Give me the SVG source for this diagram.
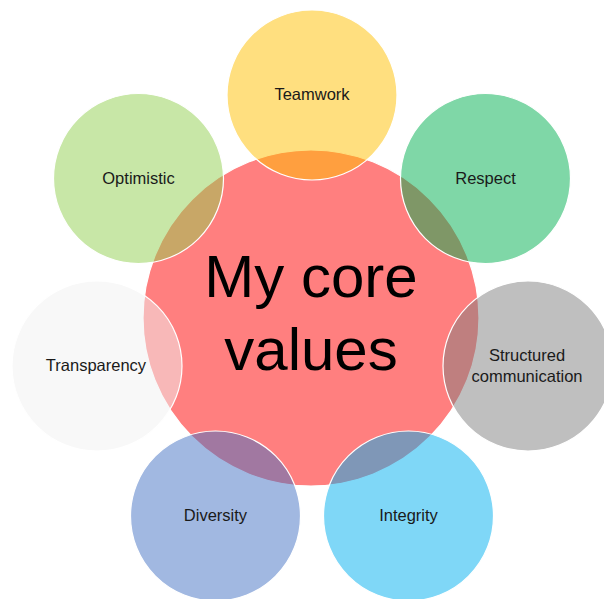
<svg xmlns="http://www.w3.org/2000/svg" width="604" height="599" viewBox="0 0 604 599">
<style>
.c{stroke:#ffffff;stroke-width:1.2;fill-opacity:0.5}
.lbl{font-family:"Liberation Sans",Arial,sans-serif;font-size:16.5px;fill:#1a1a1a;text-anchor:middle}
.big{font-family:"Liberation Sans",Arial,sans-serif;font-size:60px;fill:#000000;text-anchor:middle}
</style>
<rect width="604" height="599" fill="#ffffff"/>
<g id="core">
<circle class="c" cx="311" cy="318" r="168" fill="#FF0000"/>
</g>
<g id="teamwork">
<circle class="c" cx="312" cy="95" r="85" fill="#FFC000"/>
<text class="lbl" x="312" y="100">Teamwork</text>
</g>
<g id="respect">
<circle class="c" cx="485.5" cy="178.5" r="85" fill="#00B050"/>
<text class="lbl" x="485.5" y="184">Respect</text>
</g>
<g id="structured">
<circle class="c" cx="528" cy="366" r="85" fill="#7F7F7F"/>
<text class="lbl" x="527" y="361">Structured</text>
<text class="lbl" x="527" y="382">communication</text>
</g>
<g id="integrity">
<circle class="c" cx="408.5" cy="516" r="85" fill="#00B0F0"/>
<text class="lbl" x="408.5" y="521">Integrity</text>
</g>
<g id="diversity">
<circle class="c" cx="215.5" cy="516" r="85" fill="#4472C4"/>
<text class="lbl" x="215.5" y="521">Diversity</text>
</g>
<g id="transparency">
<circle class="c" cx="97" cy="366" r="85" fill="#F2F2F2" fill-opacity="0.7"/>
<text class="lbl" x="96" y="371">Transparency</text>
</g>
<g id="optimistic">
<circle class="c" cx="138.5" cy="178.5" r="85" fill="#92D050"/>
<text class="lbl" x="138.5" y="184">Optimistic</text>
</g>
<g id="title">
<text class="big" x="311" y="297">My core</text>
<text class="big" x="311" y="370">values</text>
</g>
<g id="connectors"></g>
</svg>
